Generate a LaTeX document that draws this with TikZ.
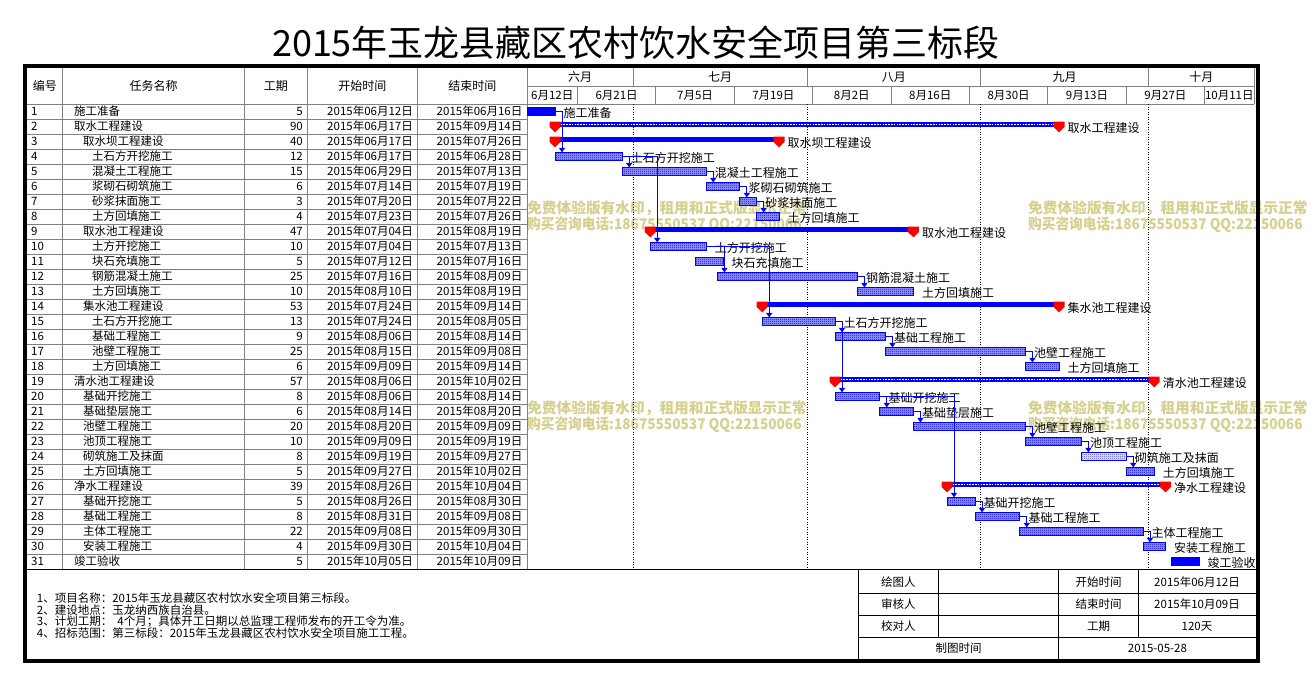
\documentclass[tikz,border=0pt]{standalone}
\usepackage{fontspec}
\setmainfont{Noto Sans CJK SC}
\usetikzlibrary{arrows.meta,patterns}
\definecolor{gline}{RGB}{128,128,128}
\definecolor{wmtan}{RGB}{214,208,142}
\definecolor{pblue}{RGB}{0,0,255}
\pgfdeclarepatternformonly{fchecker}{\pgfqpoint{0pt}{0pt}}{\pgfqpoint{2pt}{2pt}}{\pgfqpoint{2pt}{2pt}}{%
 \pgfpathrectangle{\pgfqpoint{0pt}{0pt}}{\pgfqpoint{1pt}{1pt}}%
 \pgfpathrectangle{\pgfqpoint{1pt}{1pt}}{\pgfqpoint{1pt}{1pt}}%
 \pgfusepath{fill}}
\pgfdeclarepatternformonly{fdotted}{\pgfqpoint{0pt}{0pt}}{\pgfqpoint{2pt}{2pt}}{\pgfqpoint{2pt}{2pt}}{%
 \pgfpathrectangle{\pgfqpoint{0pt}{0pt}}{\pgfqpoint{1pt}{1pt}}%
 \pgfusepath{fill}}
\newcommand\summark[2]{\fill[red] ({#1-5.5},{#2+2.7}) -- ({#1+5.5},{#2+2.7}) -- ({#1+5.5},{#2+8}) -- ({#1},{#2+13.3}) -- ({#1-5.5},{#2+8}) -- cycle;}
\tikzset{
 cell/.style={inner sep=0pt, font=\fontsize{11.5}{12}\selectfont},
 hdr/.style={inner sep=0pt, font=\fontsize{12}{13}\selectfont},
 lbl/.style={inner sep=0pt, anchor=west, font=\fontsize{12}{13}\selectfont},
 bar0/.style={fill=pblue, draw=pblue, line width=0.8pt, minimum height=8.2pt, inner sep=0pt, outer sep=0pt},
 bar1/.style={preaction={fill=pblue!40!white}, draw=pblue, line width=0.8pt, pattern=fchecker, pattern color=pblue, minimum height=8.2pt, inner sep=0pt, outer sep=0pt},
 bar2/.style={preaction={fill=pblue!15!white}, draw=pblue, line width=0.8pt, pattern=fdotted, pattern color=pblue, minimum height=8.2pt, inner sep=0pt, outer sep=0pt},
 bar3/.style={fill=pblue, minimum height=5pt, inner sep=0pt, outer sep=0pt},
 bar4/.style={fill=pblue, minimum height=5pt, inner sep=0pt, outer sep=0pt},
 lnk/.style={draw=pblue, line width=1pt, -{Triangle[length=4.5pt,width=6pt]}},
 tline/.style={draw=gline, line width=0.8pt},
 mline/.style={draw=black, line width=0.8pt, dash pattern=on 1pt off 1.5pt},
 fline/.style={draw=black, line width=1pt},
 wm/.style={text=wmtan, inner sep=0pt, anchor=west, font=\bfseries\fontsize{14.7}{15}\selectfont},
 note/.style={inner sep=0pt, anchor=west, font=\fontsize{11.5}{12}\selectfont},
}
\begin{document}
\begin{tikzpicture}[x=1pt,y=-1pt]
\fill[white] (0,0) rectangle (1311,686);
\useasboundingbox (0,0) rectangle (1311,686);
% title
\node[inner sep=0pt, font=\fontsize{36}{40}\selectfont] (title) at (636,42.5) {2015年玉龙县藏区农村饮水安全项目第三标段};
% watermarks
\foreach \wx/\wy [count=\k] in {527/0, 1028/0, 527/200, 1028/200}{
  \node[wm] (wma\k) at (\wx,208+\wy) {免费体验版有水印，租用和正式版显示正常};
  \node[wm] (wmb\k) at (\wx,225+\wy) {\scalebox{0.93}[1]{购买咨询电话:18675550537 QQ:22150066}};
}
% table grid
\foreach \k in {1,...,30} \draw[tline] (27,104+15*\k) -- (527,104+15*\k);
\draw[tline] (27,104) -- (1254,104);
\draw[tline] (527,86) -- (1254,86);
\foreach \vx in {62.7,244.7,307,417.7,527} \draw[tline] (\vx,68) -- (\vx,569);
\foreach \vx in {633.4,807,980.6,1148.6,1254} \draw[tline] (\vx,68) -- (\vx,86);
\foreach \vx in {577.4,655.8,734.2,812.6,891,969.4,1047.8,1126.2,1204.6,1254} \draw[tline] (\vx,86) -- (\vx,104);
% month dotted lines
\foreach \vx in {633.4,807,980.6,1148.6} \draw[mline] (\vx,104) -- (\vx,569);
% headers
\node[hdr] (h1) at (44.8,86) {编号};
\node[hdr] (h2) at (153.7,86) {任务名称};
\node[hdr] (h3) at (275.8,86) {工期};
\node[hdr] (h4) at (362.3,86) {开始时间};
\node[hdr] (h5) at (472.3,86) {结束时间};
\foreach \mx/\mt [count=\k] in {580.2/六月, 720.2/七月, 893.8/八月, 1064.6/九月, 1201.3/十月}
  \node[hdr] (mo\k) at (\mx,77) {\mt};
\foreach \dx/\dt [count=\k] in {552.2/6月12日, 616.6/6月21日, 695/7月5日, 773.4/7月19日, 851.8/8月2日, 930.2/8月16日, 1008.6/8月30日, 1087/9月13日, 1165.4/9月27日, 1229.3/10月11日}
  \node[cell] (dt\k) at (\dx,95) {\dt};
% rows
\foreach \n/\lv/\nm/\du/\sd/\ed/\ty/\s in {
1/0/施工准备/5/06月12日/06月16日/0/0,
2/0/取水工程建设/90/06月17日/09月14日/4/5,
3/1/取水坝工程建设/40/06月17日/07月26日/3/5,
4/2/土石方开挖施工/12/06月17日/06月28日/1/5,
5/2/混凝土工程施工/15/06月29日/07月13日/1/17,
6/2/浆砌石砌筑施工/6/07月14日/07月19日/1/32,
7/2/砂浆抹面施工/3/07月20日/07月22日/1/38,
8/2/土方回填施工/4/07月23日/07月26日/1/41,
9/1/取水池工程建设/47/07月04日/08月19日/3/22,
10/2/土方开挖施工/10/07月04日/07月13日/1/22,
11/2/块石充填施工/5/07月12日/07月16日/1/30,
12/2/钢筋混凝土施工/25/07月16日/08月09日/1/34,
13/2/土方回填施工/10/08月10日/08月19日/1/59,
14/1/集水池工程建设/53/07月24日/09月14日/3/42,
15/2/土石方开挖施工/13/07月24日/08月05日/1/42,
16/2/基础工程施工/9/08月06日/08月14日/1/55,
17/2/池壁工程施工/25/08月15日/09月08日/1/64,
18/2/土方回填施工/6/09月09日/09月14日/1/89,
19/0/清水池工程建设/57/08月06日/10月02日/4/55,
20/1/基础开挖施工/8/08月06日/08月14日/1/55,
21/1/基础垫层施工/6/08月14日/08月20日/1/63,
22/1/池壁工程施工/20/08月20日/09月09日/1/69,
23/1/池顶工程施工/10/09月09日/09月19日/1/89,
24/1/砌筑施工及抹面/8/09月19日/09月27日/2/99,
25/1/土方回填施工/5/09月27日/10月02日/1/107,
26/0/净水工程建设/39/08月26日/10月04日/4/75,
27/1/基础开挖施工/5/08月26日/08月30日/1/75,
28/1/基础工程施工/8/08月31日/09月08日/1/80,
29/1/主体工程施工/22/09月08日/09月30日/1/88,
30/1/安装工程施工/4/09月30日/10月04日/1/110,
31/0/竣工验收/5/10月05日/10月09日/0/115}{
  \pgfmathsetmacro\rt{89+15*\n}
  \pgfmathsetmacro\ym{\rt+7.5}
  \pgfmathsetmacro\xs{527+5.6*\s}
  \pgfmathsetmacro\xe{527+5.6*(\s+\du)}
  \pgfmathsetmacro\w{5.6*\du}
  \pgfmathsetmacro\xi{74+9*\lv}
  \node[cell, anchor=west] (no\n) at (31,\ym) {\n};
  \node[cell, anchor=west] (nm\n) at (\xi,\ym) {\nm};
  \node[cell, anchor=east] (du\n) at (303,\ym) {\du};
  \node[cell, anchor=east] (sd\n) at (413,\ym) {2015年\sd};
  \node[cell, anchor=east] (ed\n) at (522.5,\ym) {2015年\ed};
  \ifnum\ty<3
    \node[bar\ty, minimum width=\w pt, anchor=north west] (b\n) at (\xs,\rt+3.4) {};
  \else
    \node[bar\ty, minimum width=\w pt, anchor=north west] (b\n) at (\xs,\rt+2.7) {};
    \ifnum\ty=4
      \draw[white, line width=1.4pt, dash pattern=on 1.6pt off 1.2pt] (b\n.west) -- (b\n.east);
    \fi
    \summark{\xs}{\rt}
    \summark{\xe}{\rt}
  \fi
  \node[lbl] (l\n) at (\xe+8.5,\rt+8.5) {\nm};
}
% links
\foreach \a/\b in {1/4,4/5,4/10,5/6,6/7,7/8,10/12,10/15,12/13,15/16,15/20,16/17,17/18,20/21,20/27,21/22,22/23,23/24,24/25,27/28,28/29,29/30}
  \draw[lnk] (b\a.east) -| ([xshift=7pt]b\b.north west);
% separator
\draw[line width=1.5pt] (27,569.6) -- (1256,569.6);
% notes
\node[note] (n1) at (36.7,598.3) {1、项目名称：2015年玉龙县藏区农村饮水安全项目第三标段。};
\node[note] (n2) at (36.7,610) {2、建设地点：玉龙纳西族自治县。};
\node[note] (n3) at (36.7,621.7) {3、计划工期：\ \ 4个月；具体开工日期以总监理工程师发布的开工令为准。};
\node[note] (n4) at (36.7,633.3) {4、招标范围：第三标段：2015年玉龙县藏区农村饮水安全项目施工工程。};
% footer table
\foreach \fy in {593.3,615.3,637.3} \draw[fline] (858.3,\fy) -- (1256,\fy);
\draw[fline] (858.3,570.3) -- (858.3,661);
\draw[fline] (1058.7,570.3) -- (1058.7,661);
\draw[fline] (938.3,570.3) -- (938.3,637.3);
\draw[fline] (1138.3,570.3) -- (1138.3,637.3);
\node[cell] (f1) at (898.3,581.8) {绘图人};
\node[cell] (f2) at (898.3,604.3) {审核人};
\node[cell] (f3) at (898.3,626.3) {校对人};
\node[cell] (f4) at (1098.5,581.8) {开始时间};
\node[cell] (f5) at (1098.5,604.3) {结束时间};
\node[cell] (f6) at (1098.5,626.3) {工期};
\node[cell] (f7) at (1197,581.8) {2015年06月12日};
\node[cell] (f8) at (1197,604.3) {2015年10月09日};
\node[cell] (f9) at (1197,626.3) {120天};
\node[cell] (f10) at (958.5,648.3) {制图时间};
\node[cell] (f11) at (1157.4,648.3) {2015-05-28};
% outer border
\draw[line width=4.3pt] (25,66) rectangle (1258,661.3);
\end{tikzpicture}
\end{document}
